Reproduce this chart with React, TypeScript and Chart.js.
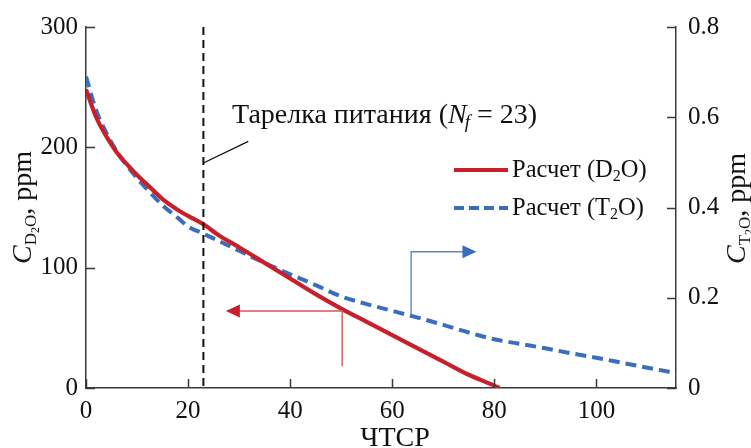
import React, { useEffect, useRef } from "react";
import { Chart, registerables } from "chart.js";

Chart.register(...registerables);

// ---- Data ----
const stagesD2O = [0, 2, 4, 6, 8, 10, 12, 15, 18, 20, 23, 26, 30, 35, 40, 45, 50, 55, 60, 65, 70, 75, 80, 81];
const valuesD2O = [248, 225, 209, 196, 186, 177, 169, 157, 148, 143, 136, 127, 117, 104, 91, 78, 66, 55, 44, 33, 22, 11, 2, 0];
const stagesT2O = [0, 2, 4, 6, 8, 10, 12, 15, 18, 20, 23, 26, 30, 35, 40, 45, 50, 55, 60, 65, 70, 75, 80, 85, 90, 95, 100, 105, 110, 115.6];
const valuesT2O = [0.69, 0.615, 0.565, 0.525, 0.493, 0.465, 0.44, 0.405, 0.377, 0.358, 0.342, 0.326, 0.304, 0.277, 0.252, 0.228, 0.203, 0.186, 0.171, 0.156, 0.14, 0.123, 0.108, 0.098, 0.088, 0.077, 0.067, 0.056, 0.045, 0.033];

const xRange = [0, 115.6];
const xStep = 20;
const leftRange = [0, 300];
const leftStep = 100;
const rightRange = [0, 0.8];
const rightStep = 0.2;
const feedStage = 23;

const xTitle = "ЧТСР";
const legendLabels = ["Расчет (D", "Расчет (T"];
const feedLabel = "Тарелка питания (";

// annotation anchors in data units
const redArrow = { x: 50.2, yFrom: 18, yCorner: 64, xTip: 27.4 }; // left axis units
const blueArrow = { x: 63.7, yFrom: 0.162, yCorner: 0.302, xTip: 76.5 }; // right axis units

const RED = "#c8202b";
const BLUE = "#3b6dbf";
const AXIS = "#3a3a3a";
const SERIF = "'Liberation Serif', 'Times New Roman', serif";

type Part = { t: string; size: number; dy?: number; italic?: boolean };

function drawRich(ctx: CanvasRenderingContext2D, parts: Part[], x: number, y: number) {
  let cx = x;
  for (const p of parts) {
    ctx.font = `${p.italic ? "italic " : ""}${p.size}px ${SERIF}`;
    ctx.fillText(p.t, cx, y + (p.dy || 0));
    cx += ctx.measureText(p.t).width;
  }
  return cx;
}

const overlay = {
  id: "overlay",
  afterDatasetsDraw(chart: any) {
    const ctx: CanvasRenderingContext2D = chart.ctx;
    const xs = chart.scales.x;
    const yl = chart.scales.y;
    const yr = chart.scales.y2;
    const area = chart.chartArea;
    ctx.save();

    // inside tick marks
    ctx.strokeStyle = AXIS;
    ctx.lineWidth = 1.5;
    const tl = 9;
    ctx.beginPath();
    for (const t of xs.ticks) {
      const px = Math.round(xs.getPixelForValue(t.value)) + 0.5;
      ctx.moveTo(px, area.bottom);
      ctx.lineTo(px, area.bottom - tl);
    }
    for (const t of yl.ticks) {
      const py = Math.round(yl.getPixelForValue(t.value)) + 0.5;
      ctx.moveTo(area.left, py);
      ctx.lineTo(area.left + tl, py);
    }
    for (const t of yr.ticks) {
      const py = Math.round(yr.getPixelForValue(t.value)) + 0.5;
      ctx.moveTo(area.right, py);
      ctx.lineTo(area.right - tl, py);
    }
    ctx.stroke();

    // feed-plate dashed line
    const fx = xs.getPixelForValue(feedStage);
    ctx.strokeStyle = "#111";
    ctx.lineWidth = 2;
    ctx.setLineDash([8, 5]);
    ctx.beginPath();
    ctx.moveTo(fx, area.top);
    ctx.lineTo(fx, area.bottom);
    ctx.stroke();
    ctx.setLineDash([]);

    // pointer line to label
    ctx.lineWidth = 1.3;
    ctx.beginPath();
    ctx.moveTo(fx, yl.getPixelForValue(187));
    ctx.lineTo(xs.getPixelForValue(31.8), yl.getPixelForValue(205));
    ctx.stroke();

    // label
    ctx.fillStyle = "#111";
    ctx.textBaseline = "alphabetic";
    ctx.textAlign = "left";
    const ly = yl.getPixelForValue(220.5);
    const ex = drawRich(ctx, [{ t: feedLabel, size: 28 }, { t: "N", size: 28, italic: true }], xs.getPixelForValue(28.6), ly);
    drawRich(ctx, [{ t: "f", size: 19, italic: true, dy: 5 }, { t: " = 23)", size: 28 }], ex - 2, ly);

    // red arrow
    const rax = xs.getPixelForValue(redArrow.x);
    const ray = yl.getPixelForValue(redArrow.yCorner);
    const rtip = xs.getPixelForValue(redArrow.xTip);
    ctx.strokeStyle = "#d45a55";
    ctx.fillStyle = "#c8202b";
    ctx.lineWidth = 1.4;
    ctx.beginPath();
    ctx.moveTo(rax, yl.getPixelForValue(redArrow.yFrom));
    ctx.lineTo(rax, ray);
    ctx.lineTo(rtip + 12, ray);
    ctx.stroke();
    ctx.beginPath();
    ctx.moveTo(rtip, ray);
    ctx.lineTo(rtip + 14, ray - 6.5);
    ctx.lineTo(rtip + 14, ray + 6.5);
    ctx.closePath();
    ctx.fill();

    // blue arrow
    const bax = xs.getPixelForValue(blueArrow.x);
    const bay = yr.getPixelForValue(blueArrow.yCorner);
    const btip = xs.getPixelForValue(blueArrow.xTip);
    ctx.strokeStyle = "#5b86cf";
    ctx.fillStyle = "#3b6dbf";
    ctx.beginPath();
    ctx.moveTo(bax, yr.getPixelForValue(blueArrow.yFrom));
    ctx.lineTo(bax, bay);
    ctx.lineTo(btip - 12, bay);
    ctx.stroke();
    ctx.beginPath();
    ctx.moveTo(btip, bay);
    ctx.lineTo(btip - 14, bay - 6.5);
    ctx.lineTo(btip - 14, bay + 6.5);
    ctx.closePath();
    ctx.fill();

    // legend
    const lgX0 = 454, lgX1 = 508;
    const rows = [
      { y: 170, color: RED, dash: [] as number[], label: legendLabels[0] },
      { y: 208, color: BLUE, dash: [10, 5], label: legendLabels[1] },
    ];
    for (const r of rows) {
      ctx.strokeStyle = r.color;
      ctx.lineWidth = 4;
      ctx.setLineDash(r.dash);
      ctx.beginPath();
      ctx.moveTo(lgX0, r.y);
      ctx.lineTo(lgX1, r.y);
      ctx.stroke();
      ctx.setLineDash([]);
      ctx.fillStyle = "#111";
      drawRich(ctx, [{ t: r.label, size: 24.5 }, { t: "2", size: 16, dy: 4 }, { t: "O)", size: 24.5 }], lgX1 + 4, r.y + 7);
    }

    // axis titles
    ctx.fillStyle = "#111";
    ctx.textAlign = "center";
    ctx.font = `28px ${SERIF}`;
    ctx.fillText(xTitle, 395, 446);
    ctx.textAlign = "left";

    const title = (sub: string): Part[] => [
      { t: "C", size: 28, italic: true },
      { t: sub, size: 17, dy: 5 },
      { t: "2", size: 12, dy: 8 },
      { t: "O", size: 17, dy: 5 },
      { t: ", ppm", size: 28 },
    ];
    ctx.save();
    ctx.translate(31, 264);
    ctx.rotate(-Math.PI / 2);
    drawRich(ctx, title("D"), 0, 0);
    ctx.restore();
    ctx.save();
    ctx.translate(745, 264);
    ctx.rotate(-Math.PI / 2);
    drawRich(ctx, title("T"), 0, 0);
    ctx.restore();

    ctx.restore();
  },
};

export default function App() {
  const ref = useRef<HTMLCanvasElement>(null);
  useEffect(() => {
    document.body.style.margin = "0";
    const canvas = ref.current!;
    const tickFont = { family: SERIF, size: 25 };
    const chart = new Chart(canvas, {
      type: "line",
      data: {
        datasets: [
          {
            label: "D2O",
            data: stagesD2O.map((x, i) => ({ x, y: valuesD2O[i] })),
            borderColor: RED,
            borderWidth: 4.2,
            pointRadius: 0,
            cubicInterpolationMode: "monotone",
            yAxisID: "y",
          },
          {
            label: "T2O",
            data: stagesT2O.map((x, i) => ({ x, y: valuesT2O[i] })),
            borderColor: BLUE,
            borderWidth: 4,
            borderDash: [11, 6],
            pointRadius: 0,
            cubicInterpolationMode: "monotone",
            yAxisID: "y2",
          },
        ],
      },
      options: {
        animation: false,
        responsive: false,
        layout: { padding: { top: 26, left: 0, right: 0, bottom: 0 } },
        plugins: { legend: { display: false }, tooltip: { enabled: false } },
        scales: {
          x: {
            type: "linear",
            min: xRange[0],
            max: xRange[1],
            grid: { display: false, drawTicks: false },
            border: { display: true, color: AXIS, width: 1.5 },
            ticks: { stepSize: xStep, includeBounds: false, font: tickFont, color: "#111", padding: 8, maxRotation: 0 },
            afterFit: (s: any) => { s.height = 60; },
          },
          y: {
            type: "linear",
            position: "left",
            min: leftRange[0],
            max: leftRange[1],
            grid: { display: false, drawTicks: false },
            border: { display: true, color: AXIS, width: 1.5 },
            ticks: { stepSize: leftStep, font: tickFont, color: "#111", padding: 8 },
            afterFit: (s: any) => { s.width = 86; },
          },
          y2: {
            type: "linear",
            position: "right",
            min: rightRange[0],
            max: rightRange[1],
            grid: { display: false, drawTicks: false },
            border: { display: true, color: AXIS, width: 1.5 },
            ticks: { stepSize: rightStep, font: tickFont, color: "#111", padding: 12 },
            afterFit: (s: any) => { s.width = 75; },
          },
        },
      },
      plugins: [overlay],
    } as any);
    return () => chart.destroy();
  }, []);
  return (
    <div style={{ width: 751, height: 448 }}>
      <canvas ref={ref} width={751} height={448} style={{ display: "block" }} />
    </div>
  );
}
